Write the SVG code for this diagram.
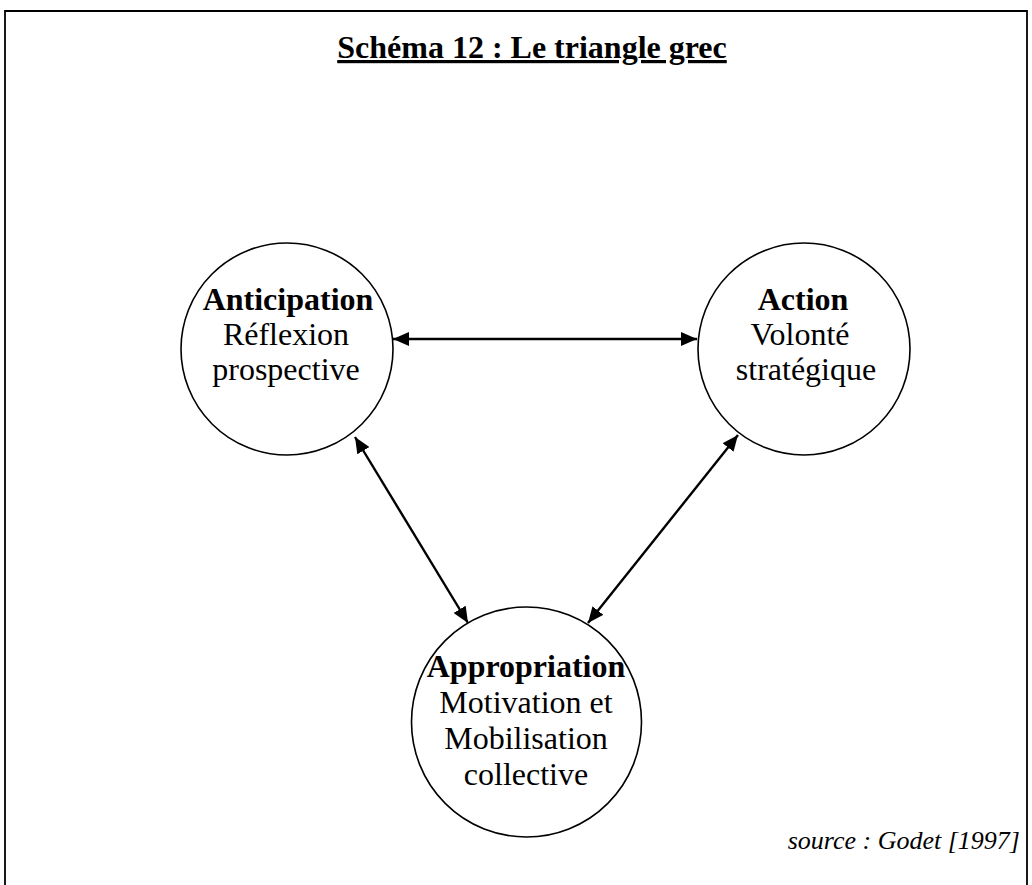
<svg xmlns="http://www.w3.org/2000/svg" width="1032" height="885" viewBox="0 0 1032 885">
<style>
.frame{fill:none;stroke:#000;stroke-width:1.8}
.node{fill:#fff;stroke:#000;stroke-width:1.6}
.conn{stroke:#000;stroke-width:2.4;fill:none}
text{font-family:"Liberation Serif","Times New Roman",serif;fill:#000}
.title{font-size:32px;font-weight:bold;text-decoration:underline}
.b{font-size:32px;font-weight:bold}
.r{font-size:32px}
.src{font-size:26px;font-style:italic}
</style>
<defs>
<marker id="ah" markerUnits="userSpaceOnUse" markerWidth="18" markerHeight="14" refX="16" refY="7" orient="auto-start-reverse">
<path d="M0,0 L16,7 L0,14 Z" fill="#000"/>
</marker>
</defs>
<rect width="1032" height="885" fill="#fff"/>
<path class="frame" d="M5,885 V11 H1027 V885"/>
<text class="title" x="532" y="58" text-anchor="middle">Schéma 12 : Le triangle grec</text>
<g id="connectors">
<line class="conn" x1="393" y1="339" x2="697" y2="339" marker-start="url(#ah)" marker-end="url(#ah)"/>
<line class="conn" x1="355" y1="437" x2="468" y2="623" marker-start="url(#ah)" marker-end="url(#ah)"/>
<line class="conn" x1="738" y1="435" x2="588" y2="623" marker-start="url(#ah)" marker-end="url(#ah)"/>
</g>
<g id="anticipation">
<circle class="node" cx="287" cy="349" r="106"/>
<text class="b" x="288" y="310" text-anchor="middle">Anticipation</text>
<text class="r" x="286" y="345" text-anchor="middle">Réflexion</text>
<text class="r" x="286" y="380" text-anchor="middle">prospective</text>
</g>
<g id="action">
<circle class="node" cx="804" cy="349" r="106"/>
<text class="b" x="803" y="310" text-anchor="middle">Action</text>
<text class="r" x="800" y="345" text-anchor="middle">Volonté</text>
<text class="r" x="806" y="380" text-anchor="middle">stratégique</text>
</g>
<g id="appropriation">
<circle class="node" cx="526.5" cy="722" r="115"/>
<text class="b" x="526" y="677" text-anchor="middle">Appropriation</text>
<text class="r" x="526" y="713" text-anchor="middle">Motivation et</text>
<text class="r" x="526" y="749" text-anchor="middle">Mobilisation</text>
<text class="r" x="526" y="785" text-anchor="middle">collective</text>
</g>
<text class="src" x="1020" y="849" text-anchor="end">source : Godet [1997]</text>
</svg>
